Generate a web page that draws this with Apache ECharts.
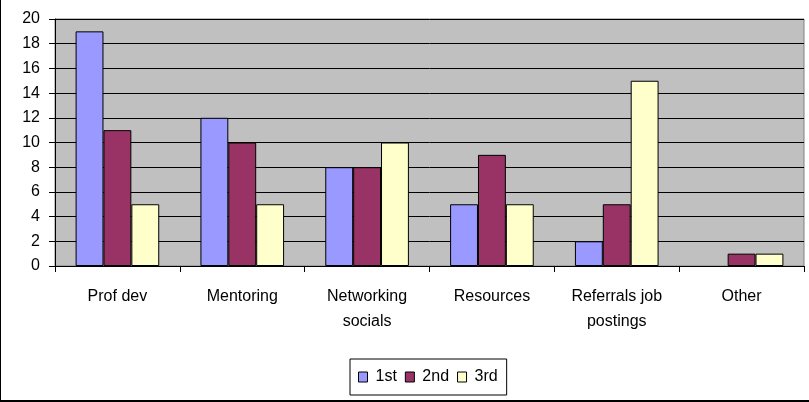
<!DOCTYPE html>
<html><head><meta charset="utf-8">
<script src="https://cdn.jsdelivr.net/npm/echarts@6/dist/echarts.min.js"></script>
<style>html,body{margin:0;padding:0;background:#fff}#c{width:809px;height:402px;box-sizing:border-box;border-left:1px solid #000;border-bottom:2px solid #000;}</style>
</head><body><div id="c"></div>
<script>
const categories = ['Prof dev','Mentoring','Networking\nsocials','Resources','Referrals job\npostings','Other'];
const first = [19,12,8,5,2,0];
const second = [11,10,8,9,5,1];
const third = [5,5,10,5,15,1];
const yTicks = {min:0,max:20,interval:2};
const chart = echarts.init(document.getElementById('c'));
const font = 'Liberation Sans, Arial, sans-serif';
const mk = (name, data, color) => ({name, type:'bar',
  data: data.map(v => v === 0 ? {value:v, itemStyle:{borderWidth:0}} : v),
  barGap:'0%', barCategoryGap:'33%',
  itemStyle:{color, borderColor:'#000', borderWidth:1}, animation:false});
chart.setOption({
  animation:false,
  textStyle:{fontFamily:font},
  grid:{left:54,top:19,width:749,height:247,show:true,backgroundColor:'#C0C0C0',borderColor:'#808080',borderWidth:1},
  xAxis:{type:'category',data:categories,
    axisLine:{lineStyle:{color:'#000'}},
    axisTick:{show:true,length:6,lineStyle:{color:'#000'}},
    axisLabel:{color:'#000',fontSize:16,margin:18,lineHeight:25,fontFamily:font,interval:0}},
  yAxis:{type:'value',min:yTicks.min,max:yTicks.max,interval:yTicks.interval,
    axisLine:{show:true,lineStyle:{color:'#000'}},
    axisTick:{show:true,length:6,lineStyle:{color:'#000'}},
    axisLabel:{color:'#000',fontSize:16,margin:15,fontFamily:font},
    splitLine:{lineStyle:{color:'#000',width:1}}},
  legend:{top:359,left:349,itemWidth:9,itemHeight:10,itemGap:8,
    padding:[10,9,10,8],borderColor:'#000',borderWidth:1,
    textStyle:{fontSize:16,color:'#000',fontFamily:font,padding:[0,0,0,3]},
    icon:'rect',
    itemStyle:{borderColor:'#000',borderWidth:1},
    data:['1st','2nd','3rd']},
  series:[mk('1st',first,'#9999FF'),mk('2nd',second,'#993366'),mk('3rd',third,'#FFFFCC')]
});
</script></body></html>
